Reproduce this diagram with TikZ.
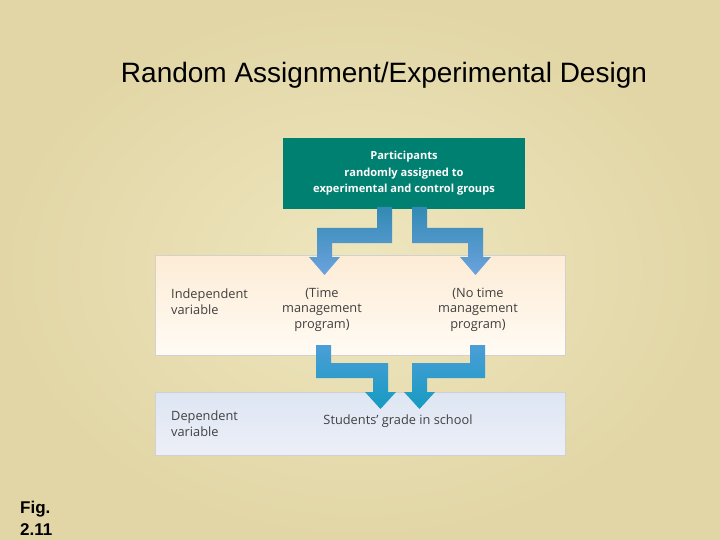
\documentclass[tikz,border=0pt]{standalone}
\usepackage{fontspec}
\setmainfont{Liberation Sans}
\newfontfamily\boxfont{Open Sans}
\usetikzlibrary{calc}
\definecolor{parchment}{RGB}{238,230,190}
\definecolor{parchmentedge}{RGB}{226,214,166}
\definecolor{groupteal}{RGB}{0,128,112}
\definecolor{peachtop}{RGB}{253,236,214}
\definecolor{peachmid}{RGB}{252,226,194}
\definecolor{peachbot}{RGB}{255,251,244}
\definecolor{bluetop}{RGB}{222,230,243}
\definecolor{bluemid}{RGB}{200,216,238}
\definecolor{bluebot}{RGB}{236,239,247}
\definecolor{splittop}{RGB}{50,138,180}
\definecolor{splitbot}{RGB}{108,162,222}
\definecolor{jointop}{RGB}{75,158,215}
\definecolor{joinbot}{RGB}{22,155,194}
\tikzset{
  band/.style={minimum width=410pt, inner sep=0pt, draw=black!18, line width=0.4pt},
  celltext/.style={font=\boxfont\fontsize{12.8}{15.5}\selectfont, text=black!75, inner sep=0pt, align=center},
  splitarrow/.style={top color=splittop, bottom color=splitbot},
  joinarrow/.style={top color=jointop, bottom color=joinbot}
}

\begin{document}
\begin{tikzpicture}[x=1pt, y=-1pt]
			%%%%% START %%%%%
			
			\useasboundingbox (0, 0) rectangle (720, 540);
			\shade[inner color=parchment, outer color=parchmentedge] (0, 0) rectangle (720, 540);
			
			\node[anchor=base, font=\fontsize{28}{34}\selectfont] (title) at (384, 83) {Random Assignment/Experimental Design};
			
			% bands
			\node[band, minimum height=100pt, top color=peachtop, middle color=peachmid, bottom color=peachbot] (indep) at (360, 305) {};
			\node[band, minimum height=63pt, top color=bluetop, middle color=bluemid, bottom color=bluebot] (dep) at (360, 423.5) {};
			
			% top box
			\node[fill=groupteal, minimum width=242pt, minimum height=71pt, inner sep=0pt] (groups) at (404, 173.5) {};
			\node[celltext, text=white, font=\boxfont\bfseries\fontsize{11.1}{16.5}\selectfont] (groupstext) at (groups) {Participants\\randomly assigned to\\experimental and control groups};
			
			% arrows from the groups
			\shade[splitarrow] (377, 207) -- (392, 207) -- (392, 243) -- (332, 243) -- (332, 257) -- (340, 257) -- (324.5, 275) -- (309, 257) -- (317, 257) -- (317, 228) -- (377, 228) -- cycle;
			\shade[splitarrow] (412, 207) -- (427, 207) -- (427, 228) -- (483, 228) -- (483, 257) -- (491, 257) -- (475.5, 275) -- (460, 257) -- (468, 257) -- (468, 243) -- (412, 243) -- cycle;
			
			% arrows into the grade
			\shade[joinarrow] (316, 345) -- (331, 345) -- (331, 363) -- (388, 363) -- (388, 392) -- (396, 392) -- (380.5, 409) -- (365, 392) -- (373, 392) -- (373, 378) -- (316, 378) -- cycle;
			\shade[joinarrow] (470, 345) -- (485, 345) -- (485, 378) -- (427, 378) -- (427, 392) -- (435, 392) -- (419.5, 409) -- (404, 392) -- (412, 392) -- (412, 363) -- (470, 363) -- cycle;
			
			% texts in the bands
			\node[celltext, anchor=west, align=left] (indeplabel) at (171, 301.5) {Independent\\variable};
			\node[celltext] (timeprog) at (322, 309.5) {(Time\\management\\program)};
			\node[celltext] (notimeprog) at (478, 309.5) {(No time\\management\\program)};
			\node[celltext, anchor=west, align=left] (deplabel) at (171, 423.5) {Dependent\\variable};
			\node[celltext] (grade) at (398, 421) {Students’ grade in school};
			
			\node[anchor=north west, align=left, inner sep=0pt, font=\bfseries\fontsize{17}{22}\selectfont] (fig) at (20, 501) {Fig.\\2.11};
			
			%%%%% END %%%%%
		\end{tikzpicture}
\end{document}
